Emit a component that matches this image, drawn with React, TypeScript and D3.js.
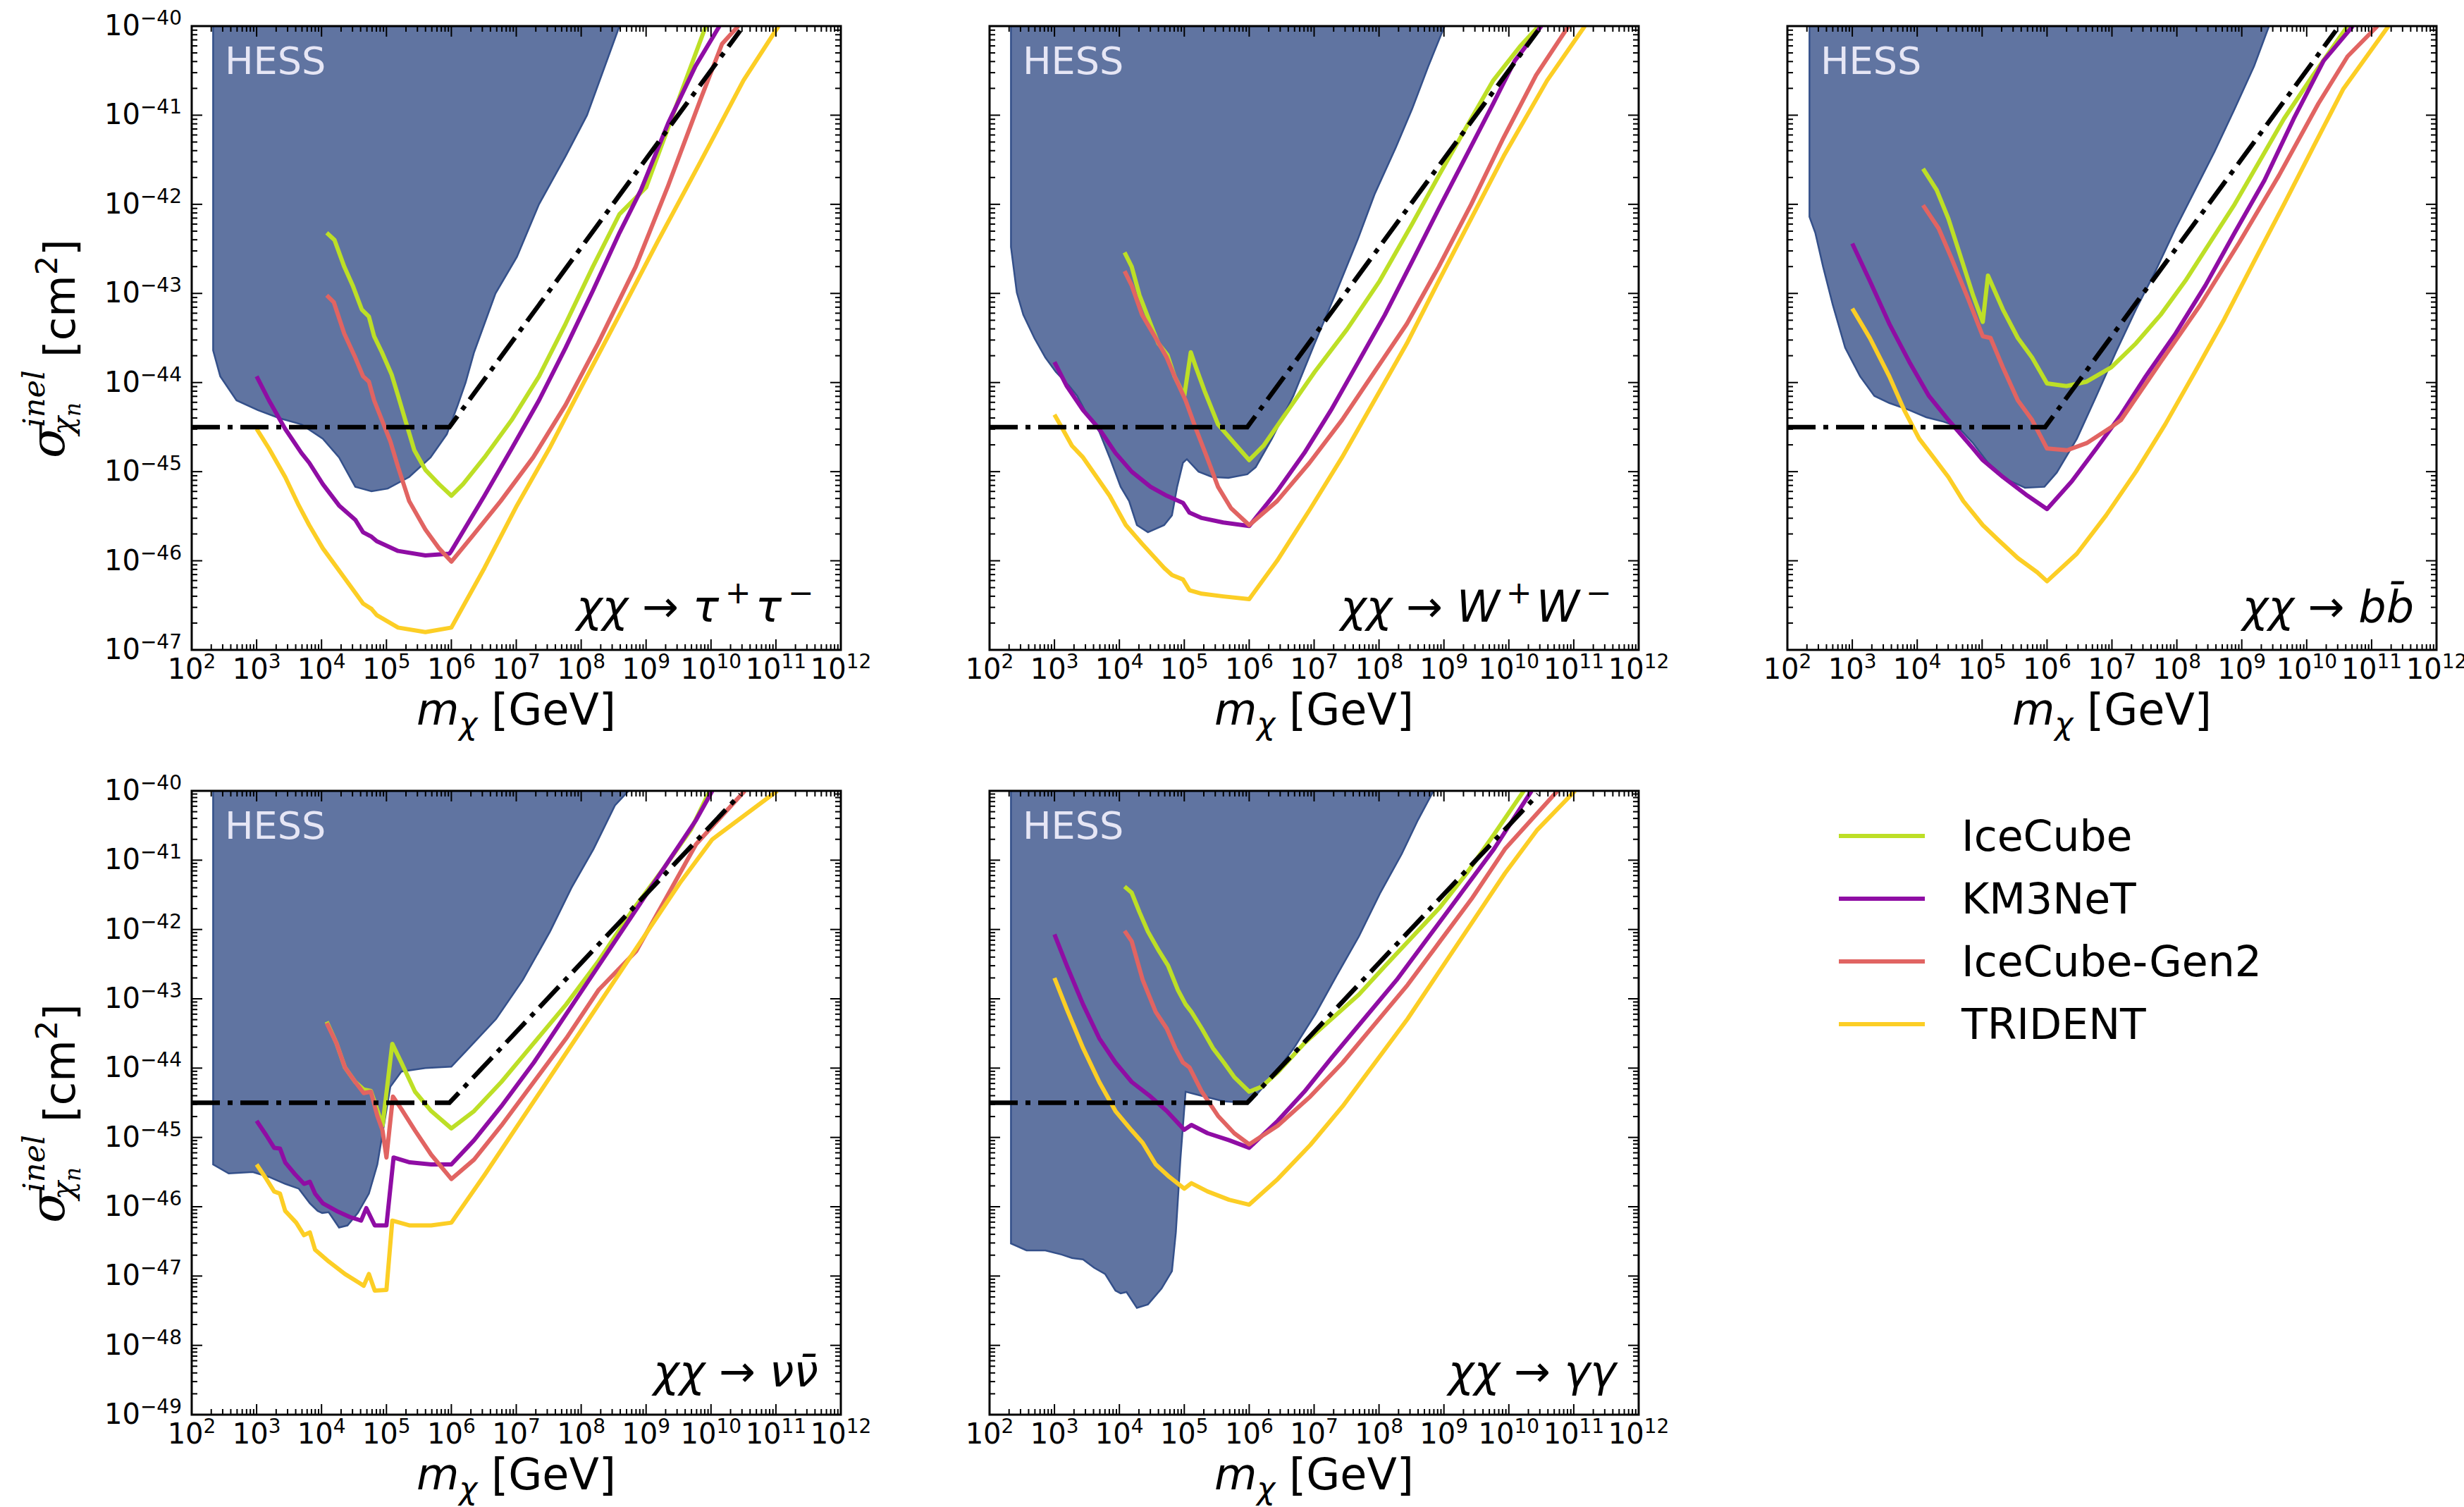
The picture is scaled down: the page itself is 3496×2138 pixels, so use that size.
import React, { useEffect, useRef } from 'react';
import * as d3 from 'd3';

type Pt = [number, number];

// every point is [log10(m / GeV), log10(sigma / cm^2)]
const unitarityLine: Pt[] = [[2, -44.5], [5.97, -44.5], [10.45, -40.05]];

// chi chi -> tau+ tau-
const hessTau: Pt[] = [[2.33, -40], [2.33, -43.64], [2.44, -43.93], [2.69, -44.2], [3.02, -44.31], [3.35, -44.4], [3.69, -44.47], [4.02, -44.63], [4.27, -44.84], [4.52, -45.17], [4.77, -45.22], [5.02, -45.19], [5.35, -45.06], [5.68, -44.84], [5.93, -44.58], [6.1, -44.25], [6.22, -44.0], [6.35, -43.66], [6.68, -43.0], [7.01, -42.59], [7.35, -42.0], [7.76, -41.46], [8.09, -41.0], [8.59, -40]];
const iceTau: Pt[] = [[4.08, -42.32], [4.2, -42.4], [4.35, -42.7], [4.48, -42.91], [4.62, -43.18], [4.73, -43.26], [4.81, -43.48], [4.93, -43.66], [5.08, -43.91], [5.18, -44.15], [5.31, -44.47], [5.43, -44.76], [5.6, -44.98], [5.81, -45.14], [6.0, -45.27], [6.18, -45.14], [6.51, -44.84], [6.93, -44.42], [7.35, -43.93], [7.76, -43.34], [8.18, -42.7], [8.59, -42.11], [9.0, -41.81], [9.34, -41.14], [9.92, -40]];
const kmTau: Pt[] = [[3.0, -43.93], [3.19, -44.2], [3.44, -44.52], [3.69, -44.79], [3.81, -44.9], [4.02, -45.14], [4.27, -45.38], [4.52, -45.54], [4.64, -45.68], [4.77, -45.73], [4.85, -45.78], [5.18, -45.89], [5.6, -45.94], [5.97, -45.92], [6.0, -45.89], [6.51, -45.27], [6.93, -44.74], [7.35, -44.2], [7.76, -43.61], [8.18, -42.97], [8.59, -42.32], [8.92, -41.84], [9.34, -41.09], [9.76, -40.45], [10.13, -40]];
const gen2Tau: Pt[] = [[4.08, -43.02], [4.19, -43.1], [4.35, -43.45], [4.52, -43.72], [4.64, -43.93], [4.73, -43.99], [4.81, -44.2], [4.93, -44.42], [5.06, -44.66], [5.18, -44.95], [5.35, -45.33], [5.6, -45.65], [5.81, -45.86], [6.0, -46.01], [6.35, -45.7], [6.76, -45.33], [7.26, -44.84], [7.76, -44.25], [8.26, -43.56], [8.84, -42.7], [9.34, -41.79], [9.84, -40.82], [10.17, -40.2], [10.42, -40]];
const triTau: Pt[] = [[3.0, -44.52], [3.19, -44.74], [3.44, -45.06], [3.65, -45.38], [3.81, -45.6], [4.02, -45.86], [4.35, -46.19], [4.64, -46.48], [4.77, -46.54], [4.85, -46.61], [5.18, -46.75], [5.6, -46.8], [6.0, -46.75], [6.51, -46.08], [7.01, -45.38], [7.51, -44.74], [8.01, -44.04], [8.59, -43.24], [9.17, -42.43], [9.84, -41.52], [10.5, -40.61], [11.04, -40]];

// chi chi -> W+ W-
const hessW: Pt[] = [[2.33, -40], [2.33, -42.48], [2.42, -42.99], [2.52, -43.24], [2.69, -43.5], [2.86, -43.72], [3.02, -43.88], [3.23, -44.04], [3.35, -44.15], [3.48, -44.33], [3.69, -44.55], [3.85, -44.84], [4.02, -45.17], [4.15, -45.33], [4.27, -45.6], [4.44, -45.68], [4.69, -45.6], [4.81, -45.49], [4.89, -45.17], [4.98, -44.9], [5.04, -44.86], [5.22, -45.0], [5.43, -45.06], [5.68, -45.07], [5.97, -45.03], [6.1, -44.95], [6.35, -44.63], [6.68, -44.15], [7.01, -43.56], [7.35, -42.97], [7.68, -42.38], [7.93, -41.89], [8.26, -41.36], [8.51, -40.93], [8.76, -40.45], [9.01, -40]];
const iceW: Pt[] = [[4.08, -42.54], [4.19, -42.7], [4.31, -43.02], [4.48, -43.34], [4.6, -43.56], [4.74, -43.69], [4.85, -43.93], [5.0, -44.15], [5.1, -43.66], [5.18, -43.83], [5.31, -44.09], [5.52, -44.47], [5.77, -44.68], [6.0, -44.87], [6.22, -44.71], [6.6, -44.31], [7.01, -43.88], [7.51, -43.4], [8.01, -42.86], [8.51, -42.22], [8.92, -41.68], [9.34, -41.14], [9.76, -40.61], [10.17, -40.23], [10.46, -40]];
const kmW: Pt[] = [[3.0, -43.77], [3.19, -44.04], [3.44, -44.31], [3.69, -44.52], [3.94, -44.79], [4.19, -45.0], [4.48, -45.17], [4.73, -45.27], [4.98, -45.35], [5.08, -45.46], [5.27, -45.52], [5.6, -45.57], [6.0, -45.61], [6.43, -45.22], [6.85, -44.79], [7.26, -44.31], [7.68, -43.77], [8.09, -43.24], [8.51, -42.64], [8.92, -42.05], [9.34, -41.46], [9.76, -40.87], [10.09, -40.39], [10.5, -40]];
const gen2W: Pt[] = [[4.08, -42.75], [4.19, -42.91], [4.35, -43.24], [4.56, -43.5], [4.73, -43.72], [4.85, -43.93], [5.02, -44.2], [5.18, -44.52], [5.35, -44.84], [5.52, -45.17], [5.72, -45.41], [6.0, -45.6], [6.43, -45.33], [6.93, -44.9], [7.43, -44.42], [7.93, -43.88], [8.43, -43.34], [8.92, -42.7], [9.42, -42.0], [9.92, -41.25], [10.42, -40.55], [10.92, -40]];
const triW: Pt[] = [[3.0, -44.36], [3.11, -44.5], [3.27, -44.71], [3.44, -44.84], [3.65, -45.06], [3.85, -45.27], [4.1, -45.6], [4.35, -45.81], [4.69, -46.08], [4.81, -46.16], [4.98, -46.21], [5.08, -46.33], [5.27, -46.37], [5.6, -46.4], [6.0, -46.43], [6.43, -46.0], [6.93, -45.43], [7.43, -44.84], [7.93, -44.2], [8.43, -43.56], [8.92, -42.86], [9.42, -42.16], [9.92, -41.46], [10.59, -40.61], [11.17, -40]];

// chi chi -> b bbar
const hessB: Pt[] = [[2.34, -40], [2.34, -42.14], [2.43, -42.32], [2.55, -42.7], [2.7, -43.13], [2.89, -43.61], [3.12, -43.93], [3.34, -44.15], [3.57, -44.23], [3.88, -44.31], [4.14, -44.39], [4.41, -44.44], [4.63, -44.5], [4.86, -44.68], [5.09, -44.9], [5.39, -45.09], [5.66, -45.18], [5.96, -45.17], [6.15, -45.01], [6.46, -44.63], [6.76, -44.15], [7.06, -43.66], [7.37, -43.18], [7.67, -42.75], [7.98, -42.27], [8.28, -41.84], [8.58, -41.41], [8.89, -40.93], [9.19, -40.45], [9.42, -40]];
const iceB: Pt[] = [[4.09, -41.6], [4.3, -41.84], [4.48, -42.16], [4.67, -42.59], [4.86, -43.02], [5.01, -43.32], [5.09, -42.8], [5.32, -43.18], [5.55, -43.5], [5.77, -43.72], [6.0, -44.01], [6.3, -44.04], [6.61, -43.99], [6.99, -43.83], [7.37, -43.56], [7.75, -43.24], [8.13, -42.86], [8.51, -42.43], [8.89, -42.0], [9.27, -41.52], [9.65, -41.04], [10.1, -40.55], [10.63, -40]];
const kmB: Pt[] = [[3.0, -42.44], [3.27, -42.86], [3.57, -43.34], [3.88, -43.77], [4.18, -44.15], [4.48, -44.42], [4.79, -44.68], [5.01, -44.87], [5.32, -45.06], [5.7, -45.27], [6.0, -45.42], [6.38, -45.11], [6.76, -44.74], [7.14, -44.36], [7.52, -43.93], [7.98, -43.45], [8.44, -42.91], [8.89, -42.32], [9.35, -41.73], [9.8, -41.04], [10.26, -40.39], [10.71, -40]];
const gen2B: Pt[] = [[4.09, -42.01], [4.33, -42.27], [4.52, -42.59], [4.79, -43.07], [5.01, -43.48], [5.13, -43.5], [5.32, -43.83], [5.55, -44.2], [5.77, -44.42], [6.0, -44.74], [6.31, -44.76], [6.61, -44.68], [6.99, -44.5], [7.14, -44.42], [7.75, -43.77], [8.36, -43.13], [8.96, -42.43], [9.57, -41.68], [10.18, -40.87], [10.63, -40.34], [11.09, -40]];
const triB: Pt[] = [[3.0, -43.17], [3.27, -43.5], [3.57, -43.93], [3.8, -44.31], [4.03, -44.63], [4.25, -44.84], [4.48, -45.06], [4.71, -45.33], [5.01, -45.6], [5.24, -45.76], [5.55, -45.97], [5.85, -46.13], [6.0, -46.23], [6.46, -45.92], [6.91, -45.49], [7.37, -45.0], [7.82, -44.47], [8.28, -43.88], [8.73, -43.29], [9.19, -42.64], [9.65, -42.0], [10.1, -41.36], [10.56, -40.71], [11.26, -40]];

// chi chi -> nu nubar
const hessNu: Pt[] = [[2.33, -40], [2.33, -45.39], [2.57, -45.52], [2.94, -45.5], [3.19, -45.57], [3.44, -45.67], [3.65, -45.74], [3.82, -45.95], [3.94, -46.06], [4.01, -46.09], [4.11, -46.08], [4.27, -46.3], [4.4, -46.27], [4.56, -46.09], [4.73, -45.81], [4.86, -45.39], [4.96, -44.83], [5.06, -44.27], [5.23, -44.05], [5.6, -44.0], [6.0, -43.98], [6.27, -43.71], [6.69, -43.29], [7.1, -42.73], [7.52, -42.03], [7.85, -41.4], [8.19, -40.84], [8.52, -40.21], [8.73, -40]];
const iceNu: Pt[] = [[4.08, -43.33], [4.23, -43.64], [4.36, -43.99], [4.52, -44.2], [4.65, -44.31], [4.76, -44.33], [4.84, -44.55], [4.94, -44.83], [5.09, -43.65], [5.23, -43.92], [5.44, -44.34], [5.69, -44.62], [6.0, -44.87], [6.35, -44.62], [6.77, -44.2], [7.27, -43.64], [7.77, -43.08], [8.27, -42.45], [8.77, -41.75], [9.27, -41.12], [9.69, -40.56], [9.98, -40]];
const kmNu: Pt[] = [[3.0, -44.76], [3.15, -44.97], [3.27, -45.15], [3.36, -45.16], [3.44, -45.36], [3.59, -45.53], [3.73, -45.67], [3.82, -45.64], [3.9, -45.81], [4.02, -45.95], [4.23, -46.06], [4.44, -46.15], [4.61, -46.2], [4.69, -46.02], [4.82, -46.27], [5.0, -46.27], [5.11, -45.29], [5.36, -45.36], [5.69, -45.39], [6.0, -45.39], [6.35, -45.04], [6.77, -44.55], [7.27, -43.92], [7.77, -43.22], [8.27, -42.52], [8.77, -41.82], [9.27, -41.12], [9.77, -40.42], [10.02, -40]];
const gen2Nu: Pt[] = [[4.08, -43.35], [4.23, -43.64], [4.36, -43.99], [4.52, -44.2], [4.65, -44.36], [4.76, -44.34], [4.86, -44.69], [4.94, -44.9], [5.0, -45.29], [5.1, -44.41], [5.23, -44.59], [5.44, -44.9], [5.69, -45.25], [6.0, -45.6], [6.35, -45.32], [6.77, -44.83], [7.27, -44.2], [7.77, -43.57], [8.27, -42.87], [8.85, -42.31], [9.27, -41.61], [9.77, -40.77], [10.52, -40]];
const triNu: Pt[] = [[3.0, -45.39], [3.15, -45.6], [3.27, -45.78], [3.36, -45.81], [3.44, -46.06], [3.61, -46.23], [3.73, -46.41], [3.82, -46.37], [3.9, -46.62], [4.11, -46.79], [4.36, -46.97], [4.65, -47.14], [4.73, -46.97], [4.82, -47.21], [5.0, -47.2], [5.09, -46.2], [5.36, -46.27], [5.69, -46.27], [6.0, -46.23], [6.52, -45.53], [7.02, -44.83], [7.52, -44.13], [8.02, -43.43], [8.52, -42.73], [9.02, -42.03], [9.52, -41.33], [10.02, -40.7], [11.02, -40]];

// chi chi -> gamma gamma
const hessG: Pt[] = [[2.33, -40], [2.33, -46.53], [2.57, -46.63], [2.86, -46.63], [3.11, -46.69], [3.27, -46.74], [3.44, -46.76], [3.61, -46.88], [3.78, -46.97], [3.94, -47.21], [4.02, -47.25], [4.11, -47.23], [4.27, -47.46], [4.44, -47.41], [4.65, -47.18], [4.81, -46.93], [4.87, -46.37], [4.94, -45.32], [5.02, -44.34], [5.27, -44.4], [5.61, -44.48], [5.94, -44.5], [6.02, -44.48], [6.35, -44.13], [6.69, -43.71], [7.02, -43.22], [7.35, -42.66], [7.69, -42.1], [8.02, -41.47], [8.35, -40.91], [8.6, -40.42], [8.84, -40]];
const iceG: Pt[] = [[4.08, -41.38], [4.19, -41.47], [4.31, -41.75], [4.44, -42.03], [4.61, -42.31], [4.75, -42.52], [4.9, -42.87], [5.02, -43.08], [5.11, -43.19], [5.27, -43.43], [5.44, -43.71], [5.61, -43.92], [5.77, -44.13], [6.0, -44.34], [6.19, -44.27], [6.44, -44.06], [6.85, -43.64], [7.27, -43.29], [7.69, -42.94], [8.1, -42.52], [8.52, -42.1], [8.94, -41.68], [9.35, -41.19], [9.77, -40.63], [10.23, -40]];
const kmG: Pt[] = [[3.0, -42.07], [3.19, -42.52], [3.44, -43.08], [3.69, -43.57], [3.94, -43.92], [4.19, -44.2], [4.48, -44.41], [4.73, -44.62], [5.0, -44.89], [5.11, -44.82], [5.36, -44.94], [5.69, -45.04], [6.0, -45.15], [6.44, -44.76], [6.85, -44.34], [7.27, -43.85], [7.77, -43.29], [8.27, -42.73], [8.77, -42.1], [9.27, -41.47], [9.77, -40.84], [10.35, -40]];
const gen2G: Pt[] = [[4.08, -42.02], [4.19, -42.17], [4.36, -42.73], [4.56, -43.19], [4.73, -43.43], [4.86, -43.71], [4.98, -43.92], [5.08, -43.99], [5.27, -44.34], [5.52, -44.69], [5.77, -44.94], [6.0, -45.1], [6.44, -44.83], [6.94, -44.41], [7.44, -43.92], [7.94, -43.36], [8.44, -42.8], [8.94, -42.17], [9.44, -41.54], [9.94, -40.84], [10.75, -40]];
const triG: Pt[] = [[3.0, -42.7], [3.19, -43.15], [3.44, -43.71], [3.69, -44.2], [3.94, -44.62], [4.19, -44.9], [4.36, -45.08], [4.56, -45.39], [4.77, -45.57], [5.0, -45.74], [5.11, -45.66], [5.36, -45.78], [5.69, -45.9], [6.0, -45.97], [6.44, -45.6], [6.94, -45.11], [7.44, -44.55], [7.94, -43.92], [8.44, -43.29], [8.94, -42.59], [9.44, -41.89], [9.94, -41.19], [10.44, -40.56], [11.02, -40]];

const experiments = ['IceCube', 'KM3NeT', 'IceCube-Gen2', 'TRIDENT'];
const expColors = ['#bddf26', '#8f0da4', '#e16462', '#fcce25'];

// process label pieces: [text, kind] with kind '' italic, 'up' upright, 'sup' superscript, 'bar' overbar
type Piece = [string, string];
const panels = [
  { row: 0, col: 0, yMin: -47, hess: hessTau, lines: [iceTau, kmTau, gen2Tau, triTau], proc: [['χχ', ''], [' → ', 'up'], ['τ', ''], ['+', 'sup'], ['τ', ''], ['−', 'sup']] as Piece[] },
  { row: 0, col: 1, yMin: -47, hess: hessW, lines: [iceW, kmW, gen2W, triW], proc: [['χχ', ''], [' → ', 'up'], ['W', ''], ['+', 'sup'], ['W', ''], ['−', 'sup']] as Piece[] },
  { row: 0, col: 2, yMin: -47, hess: hessB, lines: [iceB, kmB, gen2B, triB], proc: [['χχ', ''], [' → ', 'up'], ['b', ''], ['b', 'bar']] as Piece[] },
  { row: 1, col: 0, yMin: -49, hess: hessNu, lines: [iceNu, kmNu, gen2Nu, triNu], proc: [['χχ', ''], [' → ', 'up'], ['ν', ''], ['ν', 'bar']] as Piece[] },
  { row: 1, col: 1, yMin: -49, hess: hessG, lines: [iceG, kmG, gen2G, triG], proc: [['χχ', ''], [' → ', 'up'], ['γγ', '']] as Piece[] },
];

const W = 3496;
const H = 2138;
const COL_X = [272, 1404, 2536];
const ROW_Y = [37, 1122];
const PW = 921;
const PH = 885;
const FONT = 'DejaVu Sans';

export default function App() {
  const svgRef = useRef<SVGSVGElement | null>(null);

  useEffect(() => {
    if (!svgRef.current) return;
    const svg = d3.select(svgRef.current);
    svg.selectAll('*').remove();

    svg.append('rect').attr('width', W).attr('height', H).attr('fill', '#ffffff');

    panels.forEach((p, pi) => {
      const left = COL_X[p.col];
      const top = ROW_Y[p.row];
      const ph = PH;

      const x = d3.scaleLog().domain([1e2, 1e12]).range([0, PW]);
      const y = d3.scaleLog().domain([Math.pow(10, p.yMin), 1e-40]).range([ph, 0]);
      const px = (d: Pt) => x(Math.pow(10, d[0]));
      const py = (d: Pt) => y(Math.pow(10, d[1]));

      const g = svg.append('g').attr('transform', `translate(${left},${top})`);
      const clipId = `clip${pi}`;
      g.append('clipPath').attr('id', clipId)
        .append('rect').attr('width', PW).attr('height', ph);

      const plot = g.append('g').attr('clip-path', `url(#${clipId})`);
      const line = d3.line<Pt>().x(px).y(py);

      // HESS excluded region
      plot.append('path')
        .attr('d', line(p.hess) + 'Z')
        .attr('fill', '#6074a1')
        .attr('stroke', '#34508a')
        .attr('stroke-width', 2.5);

      plot.append('text')
        .attr('x', 47).attr('y', 68)
        .attr('font-family', FONT).attr('font-size', 54)
        .attr('fill', '#e6e6f5')
        .text('HESS');

      p.lines.forEach((pts, i) => {
        plot.append('path')
          .attr('d', line(pts))
          .attr('fill', 'none')
          .attr('stroke', expColors[i])
          .attr('stroke-width', 6)
          .attr('stroke-linejoin', 'round');
      });

      plot.append('path')
        .attr('d', line(unitarityLine))
        .attr('fill', 'none')
        .attr('stroke', '#000')
        .attr('stroke-width', 6.5)
        .attr('stroke-dasharray', '40,11,7,11');

      // process label, bottom right
      const proc = g.append('text')
        .attr('x', PW - 32).attr('y', ph - 40)
        .attr('text-anchor', 'end')
        .attr('font-family', FONT).attr('font-size', 62)
        .attr('font-style', 'oblique');
      p.proc.forEach(([t, kind]) => {
        if (kind === 'sup') {
          proc.append('tspan').attr('dy', -26).attr('font-size', 44).attr('font-style', 'normal').text('\u2009' + t);
          proc.append('tspan').attr('dy', 26).text('\u200a');
        } else if (kind === 'up') {
          proc.append('tspan').attr('font-style', 'normal').text(t);
        } else if (kind === 'bar') {
          proc.append('tspan').text(t + '\u0304');
        } else {
          proc.append('tspan').text(t);
        }
      });

      // spines
      g.append('rect').attr('width', PW).attr('height', ph)
        .attr('fill', 'none').attr('stroke', '#000').attr('stroke-width', 3);

      // ticks, inward on all four sides
      const ticks = g.append('g').attr('stroke', '#000').attr('stroke-width', 2);
      for (let k = 2; k <= 12; k++) {
        for (let m = 1; m <= 9; m++) {
          if (k === 12 && m > 1) break;
          const xx = x(m * Math.pow(10, k));
          const len = m === 1 ? 15 : 8;
          ticks.append('line').attr('x1', xx).attr('x2', xx).attr('y1', ph).attr('y2', ph - len);
          ticks.append('line').attr('x1', xx).attr('x2', xx).attr('y1', 0).attr('y2', len);
        }
      }
      for (let k = p.yMin; k <= -40; k++) {
        for (let m = 1; m <= 9; m++) {
          if (k === -40 && m > 1) break;
          const yy = y(m * Math.pow(10, k));
          const len = m === 1 ? 15 : 8;
          ticks.append('line').attr('y1', yy).attr('y2', yy).attr('x1', 0).attr('x2', len);
          ticks.append('line').attr('y1', yy).attr('y2', yy).attr('x1', PW).attr('x2', PW - len);
        }
      }

      // x tick labels
      for (let k = 2; k <= 12; k++) {
        const t = g.append('text')
          .attr('x', x(Math.pow(10, k))).attr('y', ph + 41)
          .attr('text-anchor', 'middle')
          .attr('font-family', FONT).attr('font-size', 40);
        t.append('tspan').text('10');
        t.append('tspan').attr('dy', -15).attr('font-size', 28).text(String(k));
      }

      // y tick labels on the left column only
      if (p.col === 0) {
        for (let k = p.yMin; k <= -40; k++) {
          const t = g.append('text')
            .attr('x', -14).attr('y', y(Math.pow(10, k)) + 13)
            .attr('text-anchor', 'end')
            .attr('font-family', FONT).attr('font-size', 40);
          t.append('tspan').text('10');
          t.append('tspan').attr('dy', -15).attr('font-size', 28).text('−' + String(-k));
        }

        // y axis label, rotated; local x runs up the page, local y runs right
        const yl = g.append('g').attr('transform', `translate(${-left},${613}) rotate(-90)`);
        yl.append('text').attr('x', 0).attr('y', 91)
          .attr('font-family', 'DejaVu Serif').attr('font-style', 'italic').attr('font-size', 68)
          .text('σ');
        yl.append('text').attr('x', 44).attr('y', 63)
          .attr('font-family', 'DejaVu Serif').attr('font-style', 'italic').attr('font-size', 43)
          .text('inel');
        const sub = yl.append('text').attr('x', 33).attr('y', 104)
          .attr('font-family', 'DejaVu Serif').attr('font-style', 'italic').attr('font-size', 43);
        sub.append('tspan').text('χ');
        sub.append('tspan').attr('dy', 10).attr('font-size', 31).text('n');
        const unit = yl.append('text').attr('x', 143).attr('y', 106)
          .attr('font-family', FONT).attr('font-size', 61);
        unit.append('tspan').text('[cm');
        unit.append('tspan').attr('dy', -25).attr('font-size', 43).text('2');
        unit.append('tspan').attr('dy', 25).text(']');
      }

      // x axis label
      const xl = g.append('text')
        .attr('x', PW / 2).attr('y', ph + 106)
        .attr('text-anchor', 'middle')
        .attr('font-family', FONT).attr('font-size', 62);
      xl.append('tspan').attr('font-style', 'oblique').text('m');
      xl.append('tspan').attr('font-style', 'oblique').attr('font-size', 44).attr('dy', 14).text('χ');
      xl.append('tspan').attr('dy', -14).text(' [GeV]');
    });

    // legend
    const lg = svg.append('g');
    experiments.forEach((name, i) => {
      const yy = 1186 + i * 89;
      lg.append('line')
        .attr('x1', 2609).attr('x2', 2731).attr('y1', yy).attr('y2', yy)
        .attr('stroke', expColors[i]).attr('stroke-width', 6);
      lg.append('text')
        .attr('x', 2783).attr('y', yy + 21)
        .attr('font-family', FONT).attr('font-size', 60)
        .text(name);
    });
  }, []);

  return (
    <svg
      ref={svgRef}
      width={W}
      height={H}
      style={{ position: 'absolute', left: 0, top: 0 }}
    />
  );
}
